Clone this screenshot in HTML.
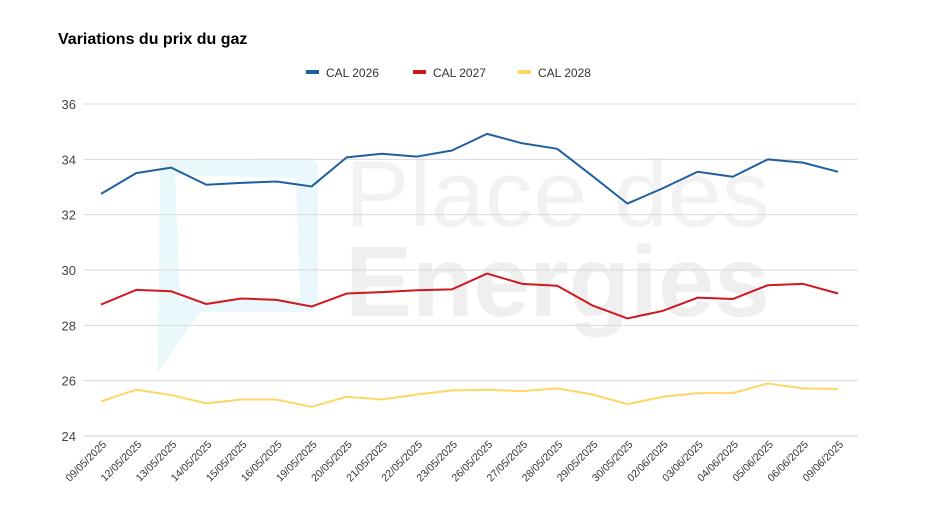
<!DOCTYPE html>
<html><head><meta charset="utf-8"><style>
body{margin:0;background:#fff;}
svg{display:block;font-family:"Liberation Sans",sans-serif;}
</style></head><body>
<svg id="c" width="936" height="526" viewBox="0 0 936 526">
<rect width="936" height="526" fill="#fff"/>
<g>
<path d="M160 160 L310 158 Q318 160 318 170 L318 300 Q318 312 306 312 L200 312 L158 372 Z M175 175 L180 300 L300 298 L296 178 Z" fill="#eaf7fb" fill-rule="evenodd"/>
<text x="345" y="226" font-size="94" fill="#f2f2f2" textLength="425" lengthAdjust="spacingAndGlyphs">Place des</text>
<text x="345" y="316" font-size="100" font-weight="bold" fill="#efefef" textLength="425" lengthAdjust="spacingAndGlyphs">Energies</text>
</g>
<text x="58" y="44" font-size="16" font-weight="bold" fill="#000">Variations du prix du gaz</text>
<g id="legend"></g>
<g id="grid"></g><g id="lines"></g><g id="xl"></g>
</svg>
<script>
const categories=["09/05/2025","12/05/2025","13/05/2025","14/05/2025","15/05/2025","16/05/2025","19/05/2025","20/05/2025","21/05/2025","22/05/2025","23/05/2025","26/05/2025","27/05/2025","28/05/2025","29/05/2025","30/05/2025","02/06/2025","03/06/2025","04/06/2025","05/06/2025","06/06/2025","09/06/2025"];
const cal2026=[32.75,33.5,33.7,33.08,33.15,33.2,33.02,34.07,34.2,34.1,34.32,34.92,34.58,34.38,33.4,32.4,32.95,33.55,33.37,34.0,33.88,33.55];
const cal2027=[28.75,29.28,29.23,28.77,28.97,28.92,28.68,29.15,29.2,29.27,29.3,29.87,29.5,29.43,28.72,28.25,28.52,29.0,28.95,29.45,29.5,29.15];
const cal2028=[25.25,25.67,25.48,25.18,25.32,25.32,25.05,25.42,25.32,25.5,25.65,25.67,25.62,25.72,25.5,25.15,25.42,25.55,25.55,25.9,25.72,25.7];
const yTicks=[24,26,28,30,32,34,36];
const seriesNames=["CAL 2026","CAL 2027","CAL 2028"];
const NS="http://www.w3.org/2000/svg";
const x0=101,x1=838,yTop=104,yBot=436,yMin=24,yMax=36;
const xs=i=>x0+(x1-x0)*i/(categories.length-1);
const ys=v=>yBot-(v-yMin)/(yMax-yMin)*(yBot-yTop);
function mk(t,a,p){const e=document.createElementNS(NS,t);for(const k in a)e.setAttribute(k,a[k]);p.appendChild(e);return e;}
const grid=document.getElementById('grid');
yTicks.forEach(v=>{
 const l=mk('line',{x1:84,x2:858,y1:ys(v),y2:ys(v),stroke:v===24?'#ccc':'#d9d9d9','stroke-width':1},grid);
 
 
 const t=mk('text',{x:76,y:ys(v)+5,'text-anchor':'end','font-size':13,fill:'#444'},grid);
 t.textContent=v;
 
 
});
const xl=document.getElementById('xl');
categories.forEach((c,i)=>{
 const x=xs(i)+6,y=445;
 const t=mk('text',{x:x,y:y,'text-anchor':'end','font-size':10.5,fill:'#333',transform:`rotate(-45 ${x} ${y})`},xl);
 t.textContent=c;
 
 
});
const colors=["#1f5fa0","#d0181c","#ffd666"];
const data=[cal2026,cal2027,cal2028];
const lines=document.getElementById('lines');
data.forEach((s,k)=>{
 const p=mk('polyline',{points:s.map((v,i)=>xs(i)+','+ys(v)).join(' '),fill:'none',stroke:colors[k],'stroke-width':2,'stroke-linejoin':'round'},lines);
 
 
});
const lg=document.getElementById('legend');
const lx=[306,413,518];
seriesNames.forEach((n,k)=>{
 const r=mk('rect',{x:lx[k],y:70,width:13,height:4,fill:colors[k]},lg);
 
 
 const t=mk('text',{x:lx[k]+20,y:77,'font-size':12,fill:'#333'},lg);
 t.textContent=n;
 
 
});
</script>
</body></html>
